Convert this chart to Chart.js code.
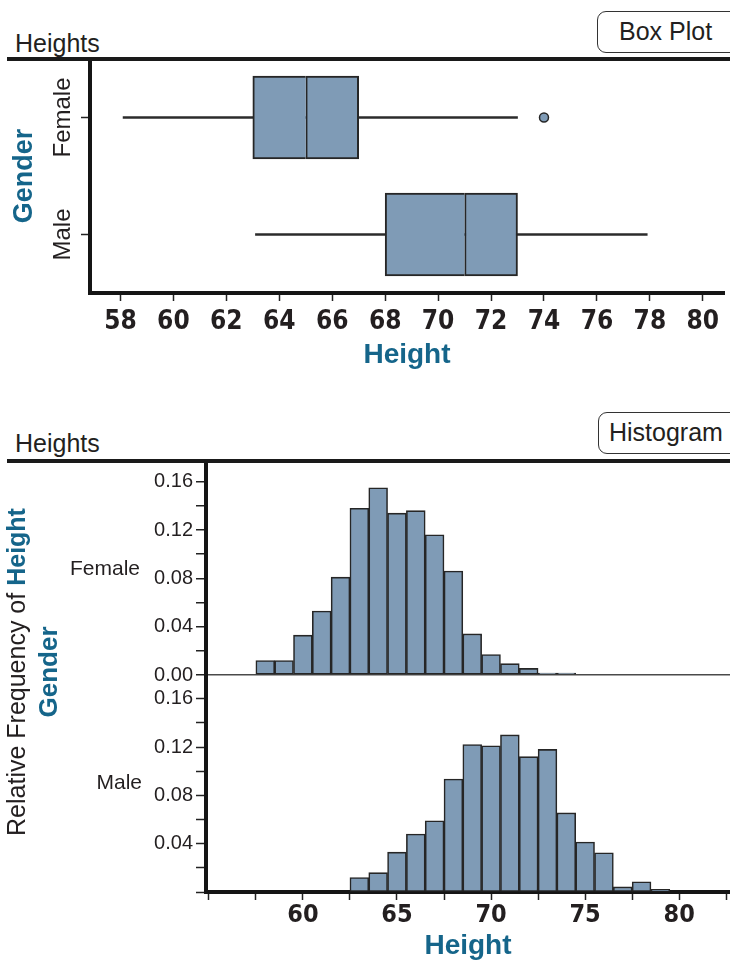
<!DOCTYPE html>
<html>
<head>
<meta charset="utf-8">
<script src="https://cdn.jsdelivr.net/npm/chart.js@4.4.1/dist/chart.umd.min.js"></script>
<style>
  html, body { margin: 0; padding: 0; background: #ffffff; }
  body { width: 730px; height: 963px; position: relative; overflow: hidden;
         font-family: "Liberation Sans", Arial, sans-serif; color: #231f20; }
  canvas { position: absolute; left: 0; }
  .hdr { position: absolute; left: 15px; font-size: 25px; line-height: 24px; }
  .rule { position: absolute; left: 7px; width: 723px; height: 4px; background: #1a1a1a; z-index: 5; }
  .btn { position: absolute; width: 170px; height: 42px; box-sizing: border-box;
         border: 1.5px solid #333; border-radius: 9px; font-size: 25px; line-height: 39px; background: #fff; }
  .row { position: absolute; font-size: 21px; line-height: 24px; text-align: right; width: 120px; }
  .ytitle { position: absolute; width: 420px; height: 64px; left: -178px; top: 640px;
            transform: rotate(-90deg); transform-origin: 50% 50%; text-align: center;
            font-size: 25px; line-height: 32px; }
  .teal { color: #15658a; font-weight: bold; }
</style>
</head>
<body>
  <div class="hdr" style="top:31px;">Heights</div>
  <div class="btn" style="left:597px; top:11px; padding-left:21px;">Box Plot</div>
  <div class="rule" style="top:57px;"></div>
  <canvas id="box" width="730" height="323" style="top:53px;"></canvas>

  <div class="hdr" style="top:431px;">Heights</div>
  <div class="btn" style="left:598px; top:412px; padding-left:10px;">Histogram</div>
  <div class="rule" style="top:459px;"></div>
  <canvas id="hist" width="730" height="501" style="top:462px;"></canvas>

  <div class="row" style="left:20px; top:556px;">Female</div>
  <div class="row" style="left:22px; top:770px;">Male</div>
  <div class="ytitle">Relative Frequency of <span class="teal">Height</span><br><span class="teal" style="font-size:26px;">Gender</span></div>

<script>
// ---------- Box plot data ----------
const categories = ['Female', 'Male'];
const whiskerLow = [58.1, 63.1];
const q1 = [63, 68];
const median = [65, 71];
const q3 = [67, 73];
const whiskerHigh = [73, 77.9];
const outlierValues = [74];
const outlierCategories = ['Female'];
const boxTickValues = [58, 60, 62, 64, 66, 68, 70, 72, 74, 76, 78, 80];

// ---------- Histogram data (relative frequency, bins of width 1 centred on integers) ----------
const femaleBins = [58, 59, 60, 61, 62, 63, 64, 65, 66, 67, 68, 69, 70, 71, 72, 73, 74];
const femaleFreq = [0.012, 0.012, 0.033, 0.053, 0.081, 0.138, 0.155, 0.134, 0.136, 0.116, 0.086, 0.034, 0.017, 0.0094, 0.0055, 0.0015, 0.0015];
const maleBins = [63, 64, 65, 66, 67, 68, 69, 70, 71, 72, 73, 74, 75, 76, 77, 78, 79];
const maleFreq = [0.012, 0.016, 0.033, 0.048, 0.059, 0.0935, 0.122, 0.121, 0.130, 0.112, 0.118, 0.0655, 0.0414, 0.0325, 0.0042, 0.0084, 0.0022];
const histTickValues = [55, 57.5, 60, 62.5, 65, 67.5, 70, 72.5, 75, 77.5, 80, 82.5];
const histTickLabels = [60, 65, 70, 75, 80];
const freqTickValues = [0, 0.02, 0.04, 0.06, 0.08, 0.10, 0.12, 0.14, 0.16];
const femaleFreqLabels = [0, 0.04, 0.08, 0.12, 0.16];
const maleFreqLabels = [0.04, 0.08, 0.12, 0.16];

// ---------- styles ----------
const FILL = '#7f9bb6';
const EDGE = '#262626';
const INK = '#231f20';
const TEAL = '#15658a';
const NARROW = '"Liberation Sans Narrow", "DejaVu Sans Condensed", "Liberation Sans", sans-serif';
const SANS = '"Liberation Sans", Arial, sans-serif';

const catLabelPlugin = {
  id: 'catLabels',
  afterDraw(chart) {
    const s = chart.scales.y;
    const ctx = chart.ctx;
    ctx.save();
    ctx.font = '24px ' + SANS;
    ctx.fillStyle = INK;
    ctx.textAlign = 'center';
    ctx.textBaseline = 'middle';
    categories.forEach((c, i) => {
      const y = s.getPixelForTick(i);
      ctx.save();
      ctx.translate(s.right - 27, y);
      ctx.rotate(-Math.PI / 2);
      ctx.fillText(c, 0, 0);
      ctx.restore();
    });
    ctx.restore();
  }
};

new Chart(document.getElementById('box'), {
  type: 'bar',
  data: {
    labels: categories,
    datasets: [
      { label: 'whisker', data: categories.map((c, i) => [whiskerLow[i], whiskerHigh[i]]),
        backgroundColor: '#2b2b2b', borderWidth: 0, barThickness: 2, grouped: false, order: 3 },
      { label: 'lower', data: categories.map((c, i) => [q1[i], median[i]]),
        backgroundColor: FILL, borderColor: EDGE, borderWidth: 2, borderSkipped: 'right',
        barThickness: 83, grouped: false, order: 2 },
      { label: 'upper', data: categories.map((c, i) => [median[i], q3[i]]),
        backgroundColor: FILL, borderColor: EDGE, borderWidth: 2, borderSkipped: false,
        barThickness: 83, grouped: false, order: 2 },
      { type: 'scatter', label: 'outlier',
        data: outlierValues.map((v, i) => ({ x: v, y: outlierCategories[i] })),
        pointRadius: 4.5, backgroundColor: FILL, borderColor: EDGE, borderWidth: 1.5, order: 1 }
    ]
  },
  options: {
    indexAxis: 'y',
    responsive: false,
    devicePixelRatio: 1,
    animation: false,
    layout: { padding: 0 },
    plugins: { legend: { display: false }, tooltip: { enabled: false } },
    scales: {
      x: {
        type: 'linear', min: 56.85, max: 80.8, offset: false,
        afterBuildTicks: s => { s.ticks = boxTickValues.map(v => ({ value: v })); },
        afterFit: s => { s.height = 83; s.paddingLeft = 0; s.paddingRight = 0; },
        ticks: { color: INK, padding: 6, font: { family: NARROW, size: 26, weight: 'bold' }, maxRotation: 0, autoSkip: false },
        grid: { drawOnChartArea: false, tickLength: 8, tickColor: '#222', tickWidth: 1.5, offset: false },
        border: { display: true, width: 4, color: '#151515' },
        title: { display: true, text: 'Height', color: TEAL, font: { family: SANS, size: 28, weight: 'bold' }, padding: { top: 0, bottom: 4 } }
      },
      y: {
        type: 'category', offset: true,
        afterFit: s => { s.width = 90; s.paddingTop = 0; s.paddingBottom = 0; },
        ticks: { display: false },
        grid: { drawOnChartArea: false, offset: false, tickLength: 9, tickColor: '#222', tickWidth: 1.5 },
        border: { display: true, width: 4, color: '#151515' },
        title: { display: true, text: 'Gender', color: TEAL, font: { family: SANS, size: 27, weight: 'bold' }, padding: { top: 8, bottom: 0 } }
      }
    }
  },
  plugins: [catLabelPlugin]
});

const freqLabel = list => v => list.some(l => Math.abs(l - v) < 1e-9) ? v.toFixed(2) : '';

const freqAxis = (weight, max, labels) => ({
  type: 'linear', position: 'left', stack: 'gender', stackWeight: weight, min: 0, max: max,
  afterBuildTicks: s => { s.ticks = freqTickValues.map(v => ({ value: v })); },
  afterFit: s => { s.width = 206; s.paddingTop = 0; s.paddingBottom = 0; },
  ticks: { color: INK, padding: 3, font: { family: SANS, size: 20 }, callback: freqLabel(labels), autoSkip: false },
  border: { display: true, width: 4, color: '#151515' }
});

const yF = freqAxis(213, 0.1763, femaleFreqLabels);
yF.grid = { drawOnChartArea: true, lineWidth: 1.5, tickLength: 10, tickColor: '#222', tickWidth: 1.5,
            color: c => (c.tick && c.tick.value === 0) ? '#4a4a4a' : 'rgba(0,0,0,0)' };
const yM = freqAxis(217, 0.1796, maleFreqLabels);
yM.grid = { drawOnChartArea: false, tickLength: 10, tickColor: '#222', tickWidth: 1.5 };

const barStyle = { backgroundColor: FILL, borderColor: EDGE, borderWidth: 1.6, borderSkipped: false,
                   barPercentage: 1, categoryPercentage: 1, grouped: false };

new Chart(document.getElementById('hist'), {
  type: 'bar',
  data: {
    datasets: [
      Object.assign({ label: 'Female', data: femaleBins.map((c, i) => ({ x: c, y: femaleFreq[i] })), xAxisID: 'x', yAxisID: 'yF' }, barStyle),
      Object.assign({ label: 'Male', data: maleBins.map((c, i) => ({ x: c, y: maleFreq[i] })), xAxisID: 'x', yAxisID: 'yM' }, barStyle)
    ]
  },
  options: {
    responsive: false,
    devicePixelRatio: 1,
    animation: false,
    layout: { padding: 0 },
    plugins: { legend: { display: false }, tooltip: { enabled: false } },
    scales: {
      x: {
        type: 'linear', min: 54.85, max: 82.7, offset: false,
        afterBuildTicks: s => { s.ticks = histTickValues.map(v => ({ value: v })); },
        afterFit: s => { s.height = 71; s.paddingLeft = 0; s.paddingRight = 0; },
        ticks: { color: INK, padding: 0, autoSkip: false, maxRotation: 0,
                 font: { family: NARROW, size: 25, weight: 'bold' },
                 callback: v => histTickLabels.includes(v) ? String(v) : '' },
        grid: { drawOnChartArea: false, offset: false, tickLength: 8, tickColor: '#222', tickWidth: 1.5 },
        border: { display: true, width: 4, color: '#151515' },
        title: { display: true, text: 'Height', color: TEAL, font: { family: SANS, size: 28, weight: 'bold', lineHeight: 1.1 }, padding: { top: 0, bottom: 1 } }
      },
      yM: yM,
      yF: yF
    }
  }
});
</script>
</body>
</html>
